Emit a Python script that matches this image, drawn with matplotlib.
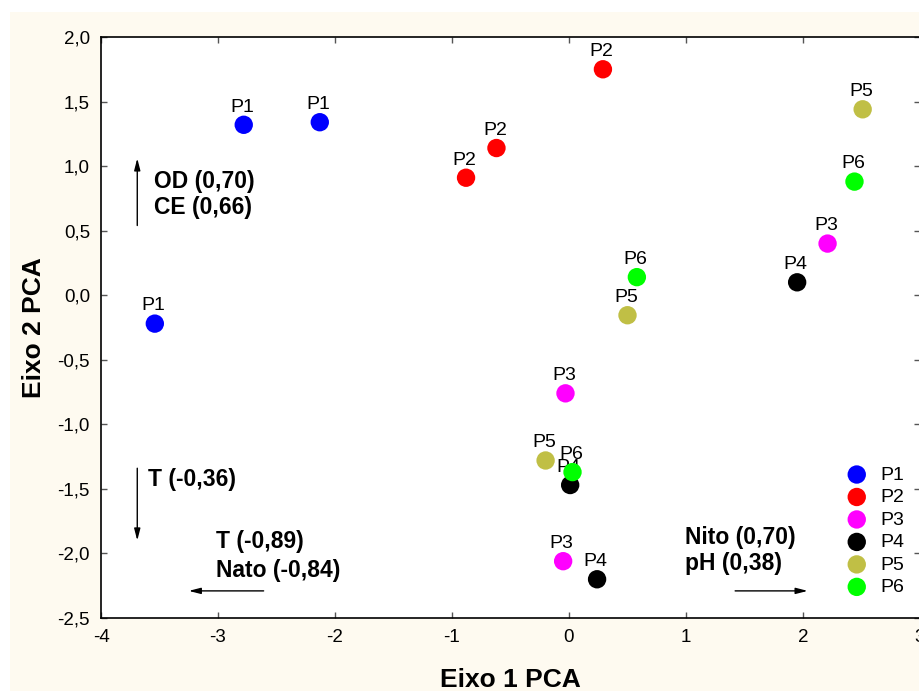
import matplotlib.pyplot as plt
from matplotlib.patches import Rectangle
from matplotlib.ticker import FuncFormatter, MultipleLocator

plt.rcParams['font.family'] = ['Liberation Sans', 'DejaVu Sans']

# scores per group (Eixo 1, Eixo 2)
groups = ["P1", "P2", "P3", "P4", "P5", "P6"]
colors = ["#0000ff", "#ff0000", "#ff00ff", "#000000", "#c0bf45", "#00ff00"]
x_vals = {
    "P1": [-3.54, -2.78, -2.13],
    "P2": [0.29, -0.62, -0.88],
    "P3": [-0.03, 2.21, -0.05],
    "P4": [1.95, 0.01, 0.24],
    "P5": [2.51, 0.50, -0.20],
    "P6": [2.44, 0.58, 0.03],
}
y_vals = {
    "P1": [-0.22, 1.32, 1.34],
    "P2": [1.75, 1.14, 0.91],
    "P3": [-0.76, 0.40, -2.06],
    "P4": [0.10, -1.47, -2.20],
    "P5": [1.44, -0.155, -1.28],
    "P6": [0.88, 0.14, -1.37],
}

fig = plt.figure(figsize=(9.19, 6.91), dpi=100, facecolor='white')
fig.patches.append(Rectangle((10/919, 0), 1, (691-12)/691, transform=fig.transFigure,
                             facecolor='#fefaf0', edgecolor='none', zorder=-10))
ax = fig.add_axes([101/919, 73/691, 819/919, 581/691])
ax.set_facecolor('white')

for g, c in zip(groups, colors):
    ax.scatter(x_vals[g], y_vals[g], s=175, color=c, edgecolors='none', label=g, zorder=3)
    for xx, yy in zip(x_vals[g], y_vals[g]):
        ax.annotate(g, (xx, yy), xytext=(-1, 9.5), textcoords='offset points',
                    ha='center', va='baseline', fontsize=14, zorder=2)

ax.set_xlim(-4, 3)
ax.set_ylim(-2.5, 2.0)
ax.xaxis.set_major_locator(MultipleLocator(1))
ax.yaxis.set_major_locator(MultipleLocator(0.5))
ax.xaxis.set_major_formatter(FuncFormatter(lambda v, p: "0" if v == 0 else f"{v:.0f}"))
ax.yaxis.set_major_formatter(FuncFormatter(lambda v, p: f"{v:.1f}".replace('.', ',')))
ax.tick_params(direction='in', length=4, width=1, labelsize=13.5, top=True, right=True,
               color='#555555', pad=8)
for s in ax.spines.values():
    s.set_linewidth(1.2)

ax.set_xlabel("Eixo 1 PCA", fontsize=19, fontweight='bold', labelpad=16)
ax.set_ylabel("Eixo 2 PCA", fontsize=19, fontweight='bold', labelpad=8)

# loading arrows and texts
arr = dict(arrowstyle='-|>,head_width=0.18,head_length=0.7', lw=1, color='black', shrinkA=0, shrinkB=0)
fs = 16.5
ax.annotate("", xy=(-3.69, 1.06), xytext=(-3.69, 0.54), arrowprops=arr)
ax.text(-3.55, 0.88, "OD (0,70)", fontsize=fs, fontweight='bold', va='center')
ax.text(-3.55, 0.68, "CE (0,66)", fontsize=fs, fontweight='bold', va='center')
ax.annotate("", xy=(-3.69, -1.90), xytext=(-3.69, -1.34), arrowprops=arr)
ax.text(-3.60, -1.43, "T (-0,36)", fontsize=fs, fontweight='bold', va='center')
ax.text(-3.02, -1.91, "T (-0,89)", fontsize=fs, fontweight='bold', va='center')
ax.text(-3.02, -2.13, "Nato (-0,84)", fontsize=fs, fontweight='bold', va='center')
ax.annotate("", xy=(-3.25, -2.29), xytext=(-2.61, -2.29), arrowprops=arr)
ax.text(0.99, -1.88, "Nito (0,70)", fontsize=fs, fontweight='bold', va='center')
ax.text(0.99, -2.08, "pH (0,38)", fontsize=fs, fontweight='bold', va='center')
ax.annotate("", xy=(2.04, -2.29), xytext=(1.42, -2.29), arrowprops=arr)

ax.legend(loc='upper left', bbox_to_anchor=(0.9109, 0.2616), frameon=False, fontsize=14,
          handlelength=1, handletextpad=0.7, labelspacing=0.25, borderpad=0, borderaxespad=0)

fig.savefig("out.png", dpi=100, facecolor=fig.get_facecolor())
